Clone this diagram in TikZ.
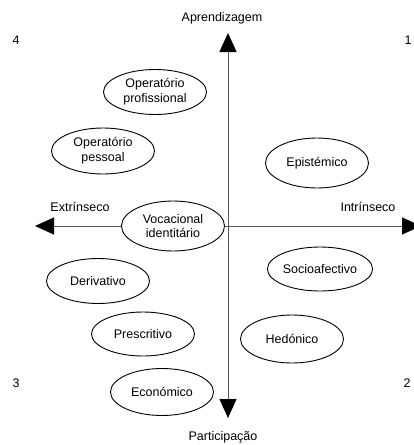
\documentclass[tikz,border=0pt]{standalone}
\usepackage{fontspec}
\setmainfont{Liberation Sans}
\usetikzlibrary{shapes.geometric,arrows.meta}
\begin{document}
\begin{tikzpicture}[x=1pt,y=-1pt,
  lbl/.style={font=\fontsize{12.5}{14.8}\selectfont, inner sep=0pt},
  ell/.style={ellipse, draw=black, line width=0.9pt, fill=white, inner sep=0pt,
    minimum width=103pt, minimum height=46pt, align=center,
    font=\fontsize{12.5}{14.8}\selectfont},
  axis/.style={draw=black!65, line width=1pt,
    {Triangle[length=19pt,width=17pt,color=black]}-{Triangle[length=19pt,width=17pt,color=black]}}
]
\useasboundingbox (0,0) rectangle (414,445);
% axis end points
\coordinate (T) at (228,33);
\coordinate (B) at (228,418);
\coordinate (L) at (35,226);
\coordinate (R) at (421,226);
\draw[axis] (B) -- (T);
\draw[axis] (L) -- (R);
% labels
\node[lbl] (apr) at (222,18) {Aprendizagem};
\node[lbl] (par) at (223,437) {Participação};
\node[lbl] (ext) at (80,207) {Extrínseco};
\node[lbl] (int) at (368,207) {Intrínseco};
\node[lbl] (q4) at (16,40) {4};
\node[lbl] (q1) at (408,40) {1};
\node[lbl] (q3) at (16,383) {3};
\node[lbl] (q2) at (407,383) {2};
% ellipses
\node[ell, minimum height=45pt] (opprof) at (155,92) {Operatório\\profissional};
\node[ell] (oppes) at (103,151) {Operatório\\pessoal};
\node[ell, minimum height=50pt] (epi) at (317,163) {Epistémico};
\node[ell, minimum height=50pt] (voc) at (173,226) {Vocacional\\identitário};
\node[ell, minimum height=45pt] (der) at (98,281) {Derivativo};
\node[ell, minimum height=44pt] (soc) at (320,269) {Socioafectivo};
\node[ell, minimum height=44pt] (pre) at (143,334) {Prescritivo};
\node[ell, minimum height=48pt] (hed) at (292,339) {Hedónico};
\node[ell, minimum height=47pt] (eco) at (162,392) {Económico};
\end{tikzpicture}
\end{document}
